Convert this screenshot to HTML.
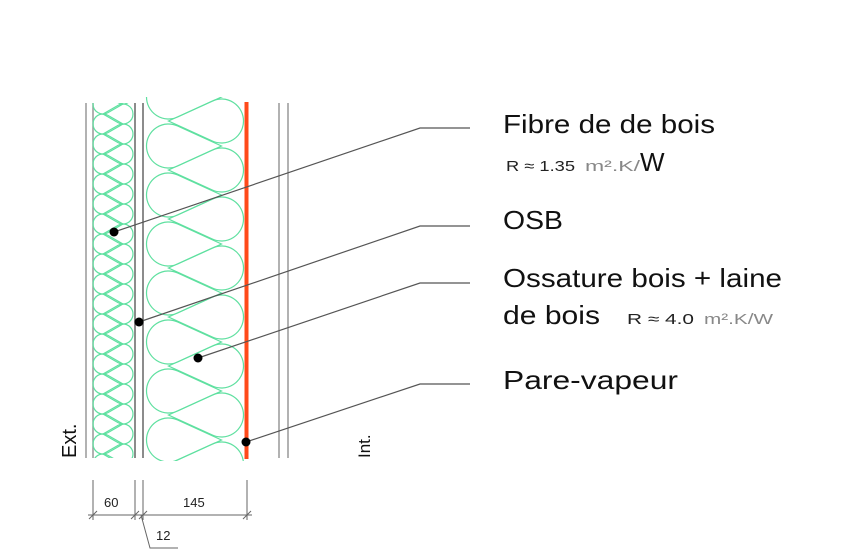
<!DOCTYPE html>
<html><head><meta charset="utf-8"><style>
html,body{margin:0;padding:0;background:#fff;width:842px;height:560px;overflow:hidden}
svg{display:block}
text{font-family:"Liberation Sans",sans-serif}
</style></head><body>
<svg id="s" width="842" height="560" viewBox="0 0 842 560" xmlns="http://www.w3.org/2000/svg">
<defs>
<clipPath id="cs"><rect x="92" y="103" width="43" height="355"/></clipPath>
<clipPath id="cb"><rect x="144" y="97" width="102" height="364"/></clipPath>
</defs>
<g stroke="#999" stroke-width="1.5">
<line x1="86" y1="103" x2="86" y2="458"/>
<line x1="93" y1="103" x2="93" y2="458"/>
<line x1="135" y1="103" x2="135" y2="458" stroke="#666"/>
<line x1="143" y1="103" x2="143" y2="458" stroke="#666"/>
<line x1="279" y1="103" x2="279" y2="458"/>
<line x1="288" y1="103" x2="288" y2="458"/>
</g>
<g id="small" clip-path="url(#cs)" fill="none" stroke="#5fe0a0" stroke-width="1.2"></g>
<g id="big" clip-path="url(#cb)" fill="none" stroke="#5fe0a0" stroke-width="1.2"></g>
<line x1="246.5" y1="102" x2="246.5" y2="459" stroke="#ff4a1a" stroke-width="4"/>
<g stroke="#555" stroke-width="1.2" fill="none">
<polyline points="114,232 420,128 470,128"/>
<polyline points="139,322 420,226 470,226"/>
<polyline points="198,358 420,283 470,283"/>
<polyline points="246,442 420,384 470,384"/>
</g>
<g fill="#000">
<circle cx="114" cy="232" r="4.5"/><circle cx="139" cy="322" r="4.5"/>
<circle cx="198" cy="358" r="4.5"/><circle cx="246" cy="442" r="4.5"/>
</g>
<g font-size="26" fill="#111">
<text x="503" y="133" textLength="212" lengthAdjust="spacingAndGlyphs">Fibre de de bois</text>
<text x="503" y="229" textLength="60" lengthAdjust="spacingAndGlyphs">OSB</text>
<text x="503" y="287" textLength="279" lengthAdjust="spacingAndGlyphs">Ossature bois + laine</text>
<text x="503" y="324" textLength="97" lengthAdjust="spacingAndGlyphs">de bois</text>
<text x="503" y="389" textLength="175" lengthAdjust="spacingAndGlyphs">Pare-vapeur</text>
</g>
<g font-size="15">
<text x="506" y="171" fill="#222" textLength="69" lengthAdjust="spacingAndGlyphs">R ≈ 1.35</text>
<text x="585" y="171" fill="#888" textLength="55" lengthAdjust="spacingAndGlyphs">m².K/</text>
<text x="640" y="171" fill="#111" font-size="26">W</text>
<text x="627" y="324" fill="#222" textLength="67" lengthAdjust="spacingAndGlyphs">R ≈ 4.0</text>
<text x="704" y="324" fill="#888" textLength="69" lengthAdjust="spacingAndGlyphs">m².K/W</text>
</g>
<text transform="translate(76,458) rotate(-90)" font-size="20" fill="#111">Ext.</text>
<text transform="translate(370,458) rotate(-90)" font-size="17" fill="#111">Int.</text>
<g stroke="#666" stroke-width="1" fill="none">
<line x1="93" y1="480" x2="93" y2="520"/><line x1="135" y1="480" x2="135" y2="520"/>
<line x1="143" y1="480" x2="143" y2="520"/><line x1="247" y1="480" x2="247" y2="520"/>
<line x1="88" y1="515" x2="252" y2="515"/>
<line x1="89" y1="519" x2="97" y2="511"/><line x1="131" y1="519" x2="139" y2="511"/>
<line x1="139" y1="519" x2="147" y2="511"/><line x1="243" y1="519" x2="251" y2="511"/>
<polyline points="141,515 150,548 178,548"/>
</g>
<g font-size="13" fill="#222">
<text x="104" y="507">60</text><text x="183" y="507">145</text><text x="156" y="540">12</text>
</g>
</svg>
<script>
var NS="http://www.w3.org/2000/svg";
function add(g,tag,a){var e=document.createElementNS(NS,tag);for(var k in a)e.setAttribute(k,a[k]);g.appendChild(e);}
function tear(g,cx,cy,tx,r){var d=Math.abs(tx-cx),a=Math.acos(r/d),s=tx>cx?1:-1;
var px=cx+s*r*Math.cos(a),py1=cy-r*Math.sin(a),py2=cy+r*Math.sin(a);
var sw=s>0?0:1;
add(g,"path",{d:"M"+tx+","+cy+" L"+px+","+py1+" A"+r+","+r+" 0 1 "+sw+" "+px+","+py2+" Z"});}
function pat(id,lx,rx,r,ly0,ry0,p,n){var g=document.getElementById(id);
for(var k=-1;k<n;k++){tear(g,lx,ly0+p*k,rx,r);tear(g,rx,ry0+p*k,lx,r);}}
pat("small",103,123,10,124,114,20,19);
pat("big",168.5,221.5,22,146,121,49,8);
</script>
</body></html>
